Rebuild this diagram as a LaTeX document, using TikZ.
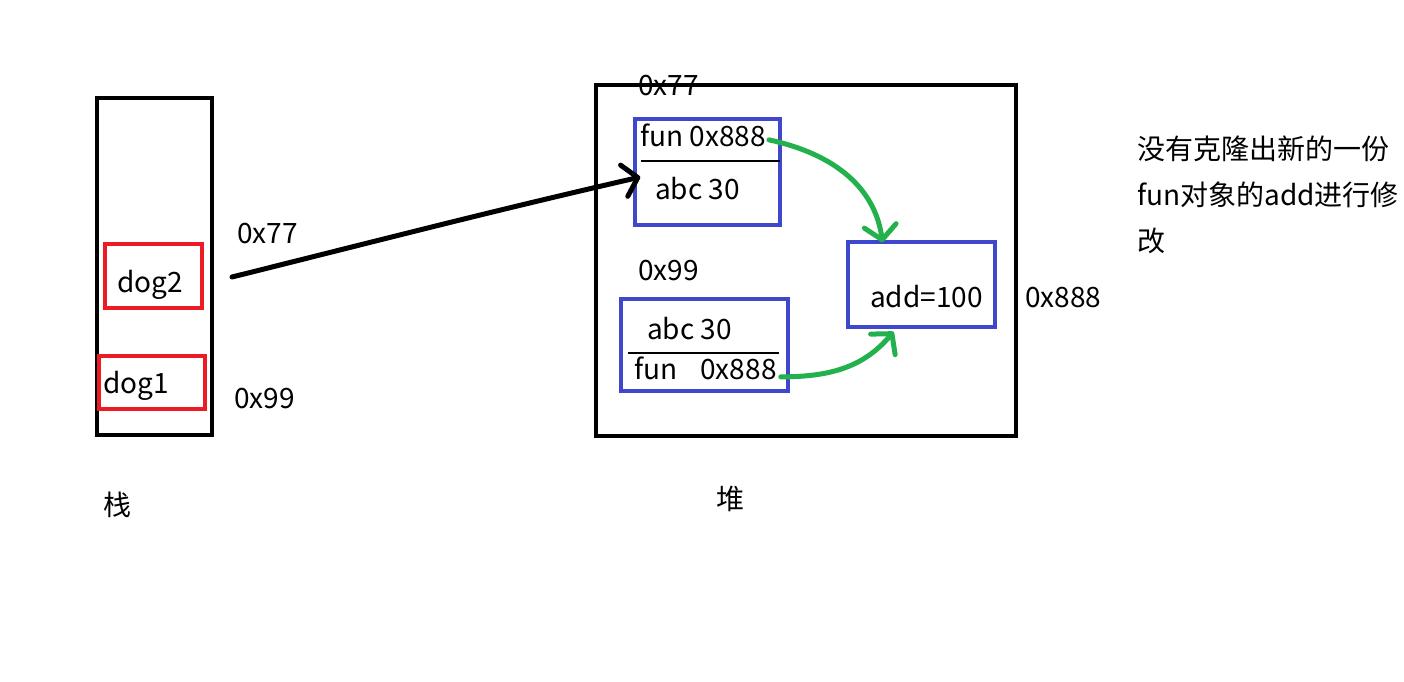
\documentclass[tikz,border=0pt]{standalone}
\usepackage{fontspec}
\setmainfont{Noto Sans CJK SC}
\usetikzlibrary{positioning,arrows.meta}
\definecolor{varred}{RGB}{237,28,36}
\definecolor{objblue}{RGB}{63,72,204}
\definecolor{inkgreen}{RGB}{34,177,76}
\tikzset{
	memory/.style={x=1pt,y=-1pt,font=\fontsize{28}{34}\selectfont},
	frame/.style={draw,line width=4pt,inner sep=0pt},
	varbox/.style={draw=varred,line width=3.5pt,inner sep=0pt},
	objbox/.style={draw=objblue,line width=3.5pt,inner sep=0pt},
	txt/.style={anchor=base west,inner sep=0pt},
	divider/.style={line width=2pt},
	ref/.style={-{Straight Barb[length=14pt,width=32pt,round]},line width=5pt,line cap=round},
	greenref/.style={ref,draw=inkgreen}
}

\begin{document}
\begin{tikzpicture}[memory]
	\useasboundingbox (0,0) rectangle (1404,681);
	
	\node[frame,minimum width=115pt,minimum height=337pt] (stack) at (154.5,266.5) {};
	\node[varbox,minimum width=97pt,minimum height=64pt] (dogtwo) at (153.5,276) {};
	\node[varbox,minimum width=106pt,minimum height=53pt] (dogone) at (152,382.5) {};
	\node[txt] (dogtwolbl) at (117,292) {dog2};
	\node[txt] (dogonelbl) at (103,393) {dog1};
	\node[txt] (stackaddrA) at (237,243) {0x77};
	\node[txt] (stackaddrB) at (234,408) {0x99};
	\node[txt] (stacklbl) at (103,515) {栈};
	
	\node[frame,minimum width=420pt,minimum height=351pt] (heap) at (806,260.5) {};
	\node[objbox,minimum width=145pt,minimum height=106pt] (objA) at (707.5,172) {};
	\node[objbox,minimum width=167pt,minimum height=92pt] (objB) at (704.5,345) {};
	\node[objbox,minimum width=147pt,minimum height=85pt] (add) at (921.5,284.5) {};
	\node[txt] (addrA) at (638,95) {0x77};
	\node[txt] (addrB) at (638,280) {0x99};
	\node[txt] (funA) at (640,146) {fun 0x888};
	\node[txt] (abcA) at (655,199) {abc 30};
	\node[txt] (abcB) at (647,339) {abc 30};
	\node[txt] (funB) at (634,379) {fun\hspace{0.6em} 0x888};
	\node[txt] (addlbl) at (870,307) {add=100};
	\node[txt] (addaddr) at (1025,307) {0x888};
	\node[txt] (heaplbl) at (716,509) {堆};
	\node[txt,anchor=north west,align=left,font=\fontsize{28}{46}\selectfont] (note) at (1137,136)
		{没有克隆出新的一份\\fun对象的add进行修\\改};
	
	\draw[divider] ([shift={(8,-11)}]objA.west) -- ([shift={(-2,-11)}]objA.east);
	\draw[divider] ([shift={(9,8)}]objB.west) -- ([shift={(-11,8)}]objB.east);
	
	\coordinate (ptr) at (232,277);
	\draw[ref] (ptr) to[out=14,in=193] ([xshift=7pt,yshift=-5pt]objA.west);
	\draw[greenref] ([xshift=3pt,yshift=-5pt]funA.east) to[out=-12,in=98] ([xshift=-39pt,yshift=-2pt]add.north);
	\draw[greenref] ([xshift=4pt,yshift=-9pt]funB.east) to[out=0,in=-130] ([xshift=-28pt,yshift=-3pt]add.south);
\end{tikzpicture}
\end{document}
